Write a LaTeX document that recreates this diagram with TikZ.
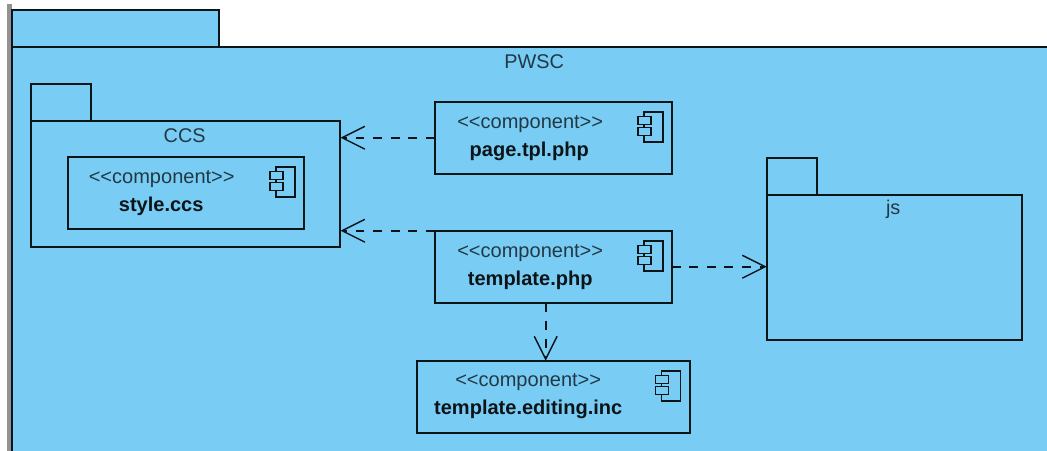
\documentclass[tikz,border=0pt]{standalone}
\usepackage{fontspec}
\setmainfont{Liberation Sans}
\usetikzlibrary{arrows.meta}
\usepackage{xcolor}
\definecolor{pkgcol}{HTML}{79CDF5}
\colorlet{linecol}{black!90!pkgcol}
\tikzset{>={Straight Barb[length=13pt,width=13pt,line width=0.8pt]}}
\tikzset{
	box/.style={draw=linecol,fill=pkgcol,line width=1.15pt,inner sep=0,outer sep=0,anchor=north west},
	comp/.style={box,minimum width=238*0.5669pt,minimum height=41pt},
	dep/.style={->,linecol,line width=1.05pt,dash pattern=on 5pt off 5pt},
	stereo/.style={font=\fontsize{11.4}{12}\selectfont,text=linecol!80!pkgcol,inner sep=0},
	compname/.style={font=\fontsize{11.4}{12}\selectfont\bfseries,text=linecol,inner sep=0},
	pkgname/.style={font=\fontsize{11.3}{12}\selectfont,text=linecol!80!pkgcol,inner sep=0},
	compicon/.pic={
		\draw[linecol,line width=1pt,fill=pkgcol] (-28,10) rectangle (-9,40);
		\draw[linecol,line width=0.9pt,fill=pkgcol] (-34,15) rectangle (-21,23);
		\draw[linecol,line width=0.9pt,fill=pkgcol] (-34,26) rectangle (-21,34);
	}
}
\begin{document}
\begin{tikzpicture}[x=0.02cm,y=-0.02cm]
	\useasboundingbox (-0.7,-0.7) rectangle (1046.3,449.3);
	
	% OUTER PACKAGE
	\fill[gray!85] (6.5,3) rectangle (11,450);
	\node[box,minimum width=208*0.5669pt,minimum height=37*0.5669pt] (pwsctab) at (11,9) {};
	\fill[pkgcol] (11,46) rectangle (1047,450);
	\draw[linecol,line width=1.15pt] (11,450) -- (11,46) -- (1047,46);
	\node[pkgname] (pwsc) at (533.5,60.5) {PWSC};
	
	% CCS PACKAGE
	\node[box,minimum width=61*0.5669pt,minimum height=37*0.5669pt] (ccstab) at (30,83) {};
	\node[box,minimum width=311*0.5669pt,minimum height=127*0.5669pt] (ccs) at (30,120) {};
	\node[pkgname] (ccsname) at (184,134.5) {CCS};
	
	% JS PACKAGE
	\node[box,minimum width=50*0.5669pt,minimum height=37*0.5669pt] (jstab) at (766,157) {};
	\node[box,minimum width=256*0.5669pt,minimum height=146*0.5669pt] (js) at (766,194) {};
	\node[pkgname] (jsname) at (892.5,208.5) {js};
	
	% COMPONENTS
	\node[comp,minimum width=237*0.5669pt] (style) at (67,156) {};
	\node[stereo] (stylest) at (161,178.5) {<{}<component>{}>};
	\node[compname] (stylename) at (160.5,205.5) {style.ccs};
	\pic at (style.north east) {compicon};
	
	\node[comp] (page) at (434,101) {};
	\node[stereo] (pagest) at (529.5,123.5) {<{}<component>{}>};
	\node[compname] (pagename) at (528.5,150.5) {page.tpl.php};
	\pic at (page.north east) {compicon};
	
	\node[comp] (template) at (434,230) {};
	\node[stereo] (templatest) at (529.5,252.5) {<{}<component>{}>};
	\node[compname] (templatename) at (529.5,279.5) {template.php};
	\pic at (template.north east) {compicon};
	
	\node[comp,minimum width=274*0.5669pt] (editing) at (416,360) {};
	\node[stereo] (editingst) at (527.5,381.5) {<{}<component>{}>};
	\node[compname] (editingname) at (527.5,408.5) {template.editing.inc};
	\pic at (editing.north east) {compicon};
	
	% DEPENDENCIES
	\coordinate (T) at (545,303);
	\draw[dep] (page.west) -- (page.west -| ccs.east);
	\draw[dep] (template.north west) -- (template.north west -| ccs.east);
	\draw[dep] (template.east) -- (template.east -| js.west);
	\draw[dep] (T) -- (T |- editing.north);
\end{tikzpicture}
\end{document}
